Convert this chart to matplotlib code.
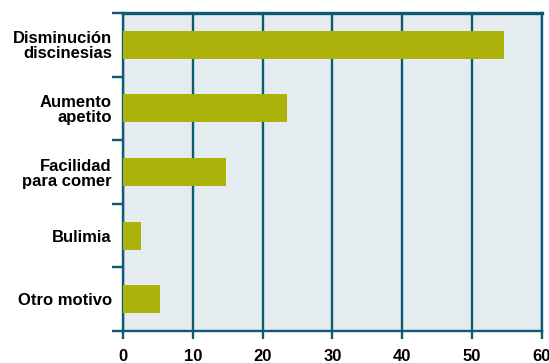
import numpy as np
import matplotlib
matplotlib.use("Agg")
from matplotlib import pyplot as plt

motivos = ["Disminución\ndiscinesias", "Aumento\napetito", "Facilidad\npara comer",
           "Bulimia", "Otro motivo"]
valores = [54.6, 23.5, 14.8, 2.6, 5.3]
xticks = [0, 10, 20, 30, 40, 50, 60]

teal = "#0e5a73"
fondo = "#e4ecf0"
oliva = "#adb20a"

plt.rcParams['font.family'] = ['Liberation Sans', 'DejaVu Sans']

fig = plt.figure(figsize=(5.49, 3.63), dpi=100)
ax = fig.add_axes([0.224, 0.088, 0.763, 0.876])
ax.set_facecolor(fondo)

pos = np.arange(len(motivos))
ax.barh(pos, valores, height=0.44, color=oliva, zorder=3)

ax.set_xlim(0, 60)
ax.set_ylim(len(motivos) - 0.5, -0.5)

# vertical grid at each major x tick
for xv in xticks:
    ax.axvline(xv, color=teal, lw=1.7, zorder=2)

ax.set_xticks(xticks)
ax.set_xticklabels([str(v) for v in xticks], fontsize=12, fontweight='bold')
ax.tick_params(axis='x', direction='out', length=6, width=1.7, color=teal, pad=7)

# category boundaries get the ticks, labels sit in the middle
ax.set_yticks(np.arange(len(motivos) + 1) - 0.5)
ax.set_yticklabels([])
ax.set_yticks(pos, minor=True)
ax.set_yticklabels(motivos, minor=True, fontsize=12, fontweight='bold',
                   ha='right', multialignment='right', linespacing=1.0)
ax.tick_params(axis='y', which='major', direction='out', length=8, width=1.7, color=teal)
ax.tick_params(axis='y', which='minor', length=0, pad=8)

for side in ['left', 'right', 'top', 'bottom']:
    ax.spines[side].set_color(teal)
    ax.spines[side].set_linewidth(1.7)
ax.spines['top'].set_linewidth(2.4)

fig.savefig("out.png", dpi=100)
